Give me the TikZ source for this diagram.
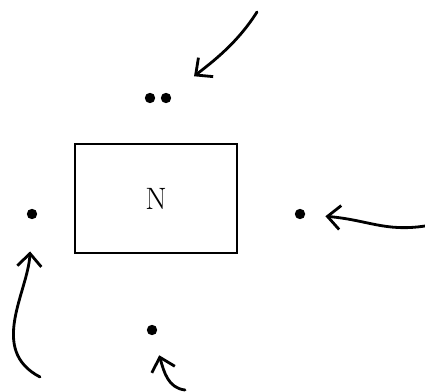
\documentclass[tikz,border=0pt]{standalone}
\usepackage{fontspec}
\usepackage{tikz}
\usetikzlibrary{arrows.meta, positioning}

\tikzset{
  dot/.style={circle, fill=black, inner sep=0pt, minimum size=0.26cm},
  nbox/.style={draw, line width=1.2pt, minimum width=4.05cm, minimum height=2.72cm, font=\fontsize{22}{26}\selectfont},
  hand/.style={line width=2pt, line cap=round, -{Straight Barb[length=3.2mm, width=6mm, line width=2pt]}}
}

\begin{document}
\begin{tikzpicture}[x=0.025cm, y=-0.025cm]
  \useasboundingbox (0,0) rectangle (425,392);
  \node[nbox] (box) at (156,198.5) {N};
  \node[dot] (dA) at (150,98) {};
  \node[dot] (dB) at (166,98) {};
  \node[dot] (dL) at (32,214) {};
  \node[dot] (dR) at (300,214) {};
  \node[dot] (dD) at (152,330) {};
  \coordinate (top) at (257,12);
  \coordinate (right) at (425,226);
  \coordinate (left) at (40,377);
  \coordinate (low) at (185,390);
  \draw[hand, shorten >=0.75cm] (top) .. controls (238,42) and (215,60) .. (dB);
  \draw[hand, shorten >=0.5cm] (right) .. controls (385,232) and (368,220) .. (dR);
  \draw[hand, shorten >=0.8cm] (left) .. controls (-12,350) and (28,292) .. (dL);
  \draw[hand, shorten >=0.52cm] (low) .. controls (168,388) and (164,372) .. (dD);
\end{tikzpicture}
\end{document}
